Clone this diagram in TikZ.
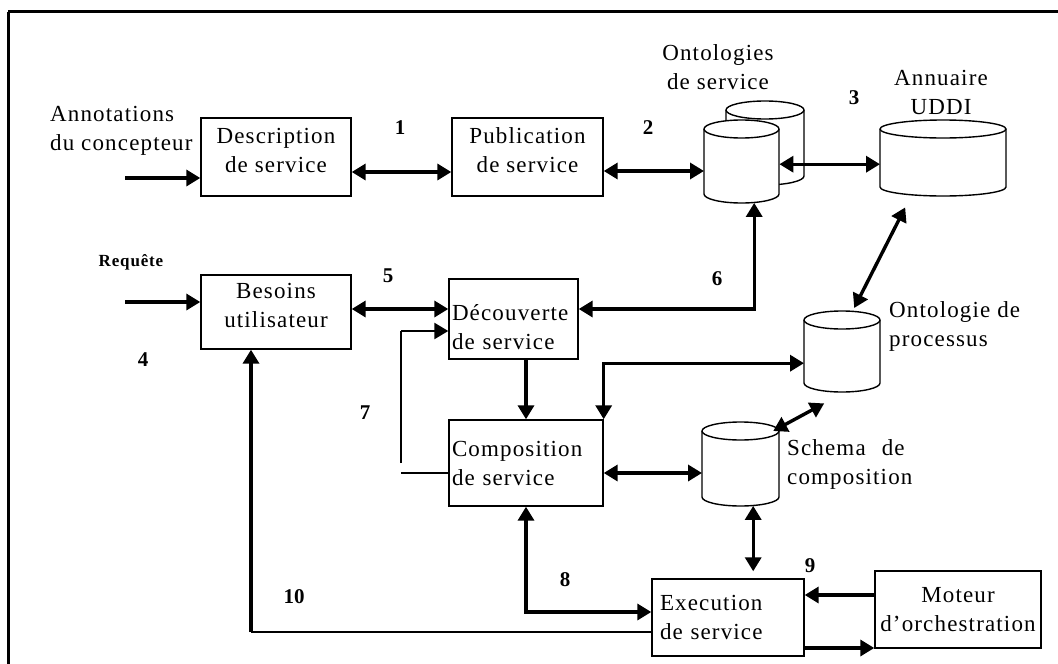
\documentclass[tikz,border=0pt]{standalone}
\usepackage{fontspec}
\setmainfont{Liberation Serif}
\newfontfamily\lblfont{Liberation Serif}[LetterSpace=5]
\usetikzlibrary{arrows.meta}

% database drum: #1 name, #2 left x, #3 y of the top rim centre, #4 half width, #5 body height
\newcommand\drum[5]{%
  \path[draw, fill=white, line width=1.4pt] (#2,-#3) -- ++(0,-#5)
    arc[start angle=180, end angle=360, x radius=#4pt, y radius=9pt] -- ++(0,#5)
    arc[start angle=0, end angle=180, x radius=#4pt, y radius=9pt] -- cycle;
  \draw[line width=1.4pt] (#2,-#3) arc[start angle=180, end angle=360, x radius=#4pt, y radius=9pt];
  \node[inner sep=0pt, minimum width=2*#4pt, minimum height=#5pt, anchor=north west] (#1) at (#2,-#3) {};
}

\begin{document}
\begin{tikzpicture}[x=1pt, y=1pt,
  every node/.style={font=\lblfont\fontsize{23}{29}\selectfont},
  box/.style={draw, line width=1.4pt, inner sep=0pt, align=center},
  lbox/.style={box, align=left, inner xsep=3pt},
  lift/.style={text depth=14pt},
  num/.style={font=\fontsize{21}{21}\selectfont\bfseries, inner sep=0pt},
  note/.style={inner sep=0pt},
  arr/.style={line width=3.4pt, -{Triangle[length=14pt,width=16pt]}},
  dbl/.style={line width=3.4pt, {Triangle[length=14pt,width=16pt]}-{Triangle[length=14pt,width=16pt]}},
  fine/.style={line width=1.6pt},
]
\useasboundingbox (0,0) rectangle (1058,-664);

% frame
\draw[line width=3.5pt] (8,-11.5) -- (1058,-11.5);
\draw[line width=2.5pt] (8.5,-11.5) -- (8.5,-664);

% process boxes
\node[box, lift, minimum width=150pt, minimum height=78pt] (desc) at (276,-157) {Description\\de service};
\node[box, lift, minimum width=151pt, minimum height=78pt] (pub) at (527.5,-157) {Publication\\de service};
\node[box, lift, minimum width=150pt, minimum height=74pt] (besoins) at (276,-312) {Besoins\\utilisateur};
\node[lbox, lift, text width=123pt, minimum height=80pt] (decouv) at (513.5,-319) {Découverte\\de service};
\node[lbox, text width=148pt, minimum height=86pt] (compo) at (526,-463) {Composition\\de service};
\node[lbox, inner xsep=8pt, text width=136pt, minimum height=77pt] (exec) at (728,-617.5) {Execution\\de service};
\node[box, minimum width=166pt, minimum height=77pt] (moteur) at (958,-609.5) {Moteur\\d’orchestration};

% data stores
\drum{ontoB}{726}{110}{39}{66}
\drum{ontoS}{704}{129}{37.5}{65}
\drum{uddi}{880}{129}{63}{58}
\drum{ontoP}{804}{320}{38}{63}
\drum{schema}{702}{431}{38.5}{66}

% captions
\node[note, align=left, anchor=west] (lAnn) at (50,-131) {Annotations\\du concepteur};
\node[note, font=\lblfont\fontsize{17}{17}\selectfont\bfseries] (lReq) at (131,-262) {Requête};
\node[note, align=center] (lOnt) at (718,-67) {Ontologies\\de service};
\node[note, align=center] (lUDDI) at (941,-92) {Annuaire\\UDDI};
\node[note, align=left, anchor=west] (lProc) at (889,-326) {Ontologie de\\processus};
\node[note, align=left, anchor=west] (lSch) at (787,-464) {Schema\hspace{16pt}de\\composition};

% step numbers
\node[num] (n1) at (400,-128) {1};
\node[num] (n2) at (648,-128) {2};
\node[num] (n3) at (854,-98) {3};
\node[num] (n4) at (143,-360) {4};
\node[num] (n5) at (388,-276) {5};
\node[num] (n6) at (717,-279) {6};
\node[num] (n7) at (365,-413) {7};
\node[num] (n8) at (565,-580) {8};
\node[num] (n9) at (810,-566) {9};
\node[num] (n10) at (294,-597) {10};

% inputs
\coordinate (inA) at (125,-178);
\coordinate (inR) at (125,-302);
\draw[arr] (inA) -- (inA -| desc.west);
\draw[arr] (inR) -- (inR -| besoins.west);

% 1, 2, 3
\path ([yshift=-15pt]desc.east) coordinate (a1);
\draw[dbl] (a1) -- (a1 -| pub.west);
\path ([yshift=-14pt]pub.east) coordinate (a2);
\draw[dbl] (a2) -- (a2 -| ontoS.west);
\path ([yshift=-2.5pt]ontoS.east) coordinate (a3);
\draw[dbl] (a3) -- (a3 -| uddi.west);

% 5, 6
\path ([yshift=3pt]besoins.east) coordinate (a5);
\draw[dbl] (a5) -- (a5 -| decouv.west);
\path ([shift={(12.5pt,-8.5pt)}]ontoS.south) coordinate (a6);
\path ([yshift=10pt]decouv.east) coordinate (b6);
\draw[dbl] (a6) |- (b6);

% 7
\path ([yshift=-12pt]decouv.west) coordinate (b7);
\path ([yshift=-10pt]compo.west) coordinate (a7);
\coordinate (c7) at (401,-463);
\draw[fine] (a7) -- (a7 -| c7);
\draw[fine] (c7) -- (c7 |- b7);
\draw[arr, line width=2.4pt] (c7 |- b7) -- (b7);

% discovery to composition, composition to process ontology
\draw[arr] (decouv.south -| compo.north) -- (compo.north);
\path ([yshift=-11.5pt]ontoP.west) coordinate (bP);
\draw[dbl] (compo.north east) |- (bP);

% composition schema links
\path ([yshift=-10pt]compo.east) coordinate (a11);
\draw[dbl] (a11) -- (a11 -| schema.west);
\draw[dbl] ([xshift=32.5pt]schema.north) -- ([shift={(-18pt,-20pt)}]ontoP.south);
\draw[dbl] ([shift={(-38pt,-20pt)}]uddi.south) -- ([shift={(12pt,12pt)}]ontoP.north);
\path ([shift={(12.5pt,-8.5pt)}]schema.south) coordinate (a13);
\draw[dbl, shorten >=7pt] (a13) -- (a13 |- exec.north);

% 8, 9
\path ([yshift=5.5pt]exec.west) coordinate (b16);
\draw[dbl] (compo.south) |- (b16);
\path ([yshift=14.5pt]moteur.west) coordinate (a14);
\draw[arr] (a14) -- (a14 -| exec.east);
\path ([yshift=-30.5pt]exec.east) coordinate (a15);
\draw[arr] (a15) -- (a15 -| moteur.west);

% 10
\path ([yshift=-14.5pt]exec.west) coordinate (e10);
\path ([xshift=-25pt]besoins.south) coordinate (b10);
\draw[fine] (e10) -- (b10 |- e10);
\draw[arr, line width=3.6pt] (b10 |- e10) -- (b10);
\end{tikzpicture}
\end{document}
